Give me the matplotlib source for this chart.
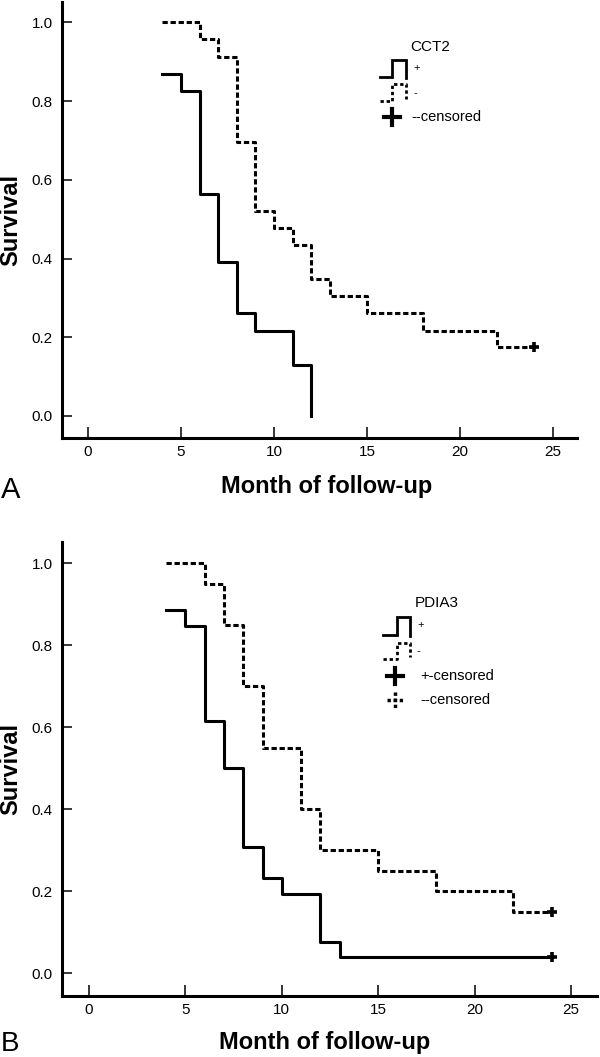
"""Kaplan-Meier curves: CCT2 (A) and PDIA3 (B), month of follow-up."""
import matplotlib
matplotlib.use('Agg')
import matplotlib.pyplot as plt
from matplotlib.lines import Line2D

plt.rcParams['font.family'] = ['Liberation Sans', 'DejaVu Sans']
plt.rcParams['lines.scale_dashes'] = False

# ---- data ----
cct2_pos_t = [4, 5, 6, 7, 8, 9, 11, 12]
cct2_pos_s = [0.870, 0.826, 0.565, 0.391, 0.261, 0.217, 0.130, 0.0]
cct2_neg_t = [4, 6, 7, 8, 9, 10, 11, 12, 13, 15, 18, 22, 24]
cct2_neg_s = [1.0, 0.957, 0.913, 0.696, 0.522, 0.478, 0.435, 0.348, 0.304,
              0.261, 0.217, 0.174, 0.174]
cct2_cens = [(24, 0.174)]

pdia3_pos_t = [4, 5, 6, 7, 8, 9, 10, 12, 13, 24]
pdia3_pos_s = [0.885, 0.846, 0.615, 0.5, 0.308, 0.231, 0.192, 0.077, 0.038, 0.038]
pdia3_neg_t = [4, 6, 7, 8, 9, 11, 12, 15, 18, 22, 24]
pdia3_neg_s = [1.0, 0.95, 0.85, 0.70, 0.55, 0.40, 0.30, 0.25, 0.20, 0.15, 0.15]
pdia3_cens = [(24, 0.038), (24, 0.15)]

x_ticks = [0, 5, 10, 15, 20, 25]
y_ticks = [0.0, 0.2, 0.4, 0.6, 0.8, 1.0]

W, H = 600, 1057
LW = 2.2
DASH = (3.8, 2.0)

fig = plt.figure(figsize=(W / 100, H / 100), dpi=100)


def fpx(x, y):
    return x / W, 1 - y / H


def axes_px(left, top, right, bottom):
    return fig.add_axes([left / W, 1 - bottom / H, (right - left) / W, (bottom - top) / H])


def style(ax, xmax):
    ax.set_xlim(-1.4, xmax)
    ax.set_ylim(-0.056, 1.052)
    for s in ['top', 'right']:
        ax.spines[s].set_visible(False)
    for s in ['left', 'bottom']:
        ax.spines[s].set_linewidth(2.2)
    ax.set_xticks(x_ticks)
    ax.set_yticks(y_ticks)
    ax.set_yticklabels([f'{v:.1f}' for v in y_ticks])
    ax.tick_params(axis='y', direction='in', length=7.5, width=1.1, pad=6.5, labelsize=11)
    ax.tick_params(axis='x', direction='in', length=8, width=1.1, pad=5, labelsize=11)


def fig_line(xs, ys, dashed=False, lw=2.0):
    pts = [fpx(x, y) for x, y in zip(xs, ys)]
    ln = Line2D([p[0] for p in pts], [p[1] for p in pts], transform=fig.transFigure,
                color='black', lw=lw, solid_joinstyle='miter')
    if dashed:
        ln.set_dashes((2.4, 2.0))
    fig.add_artist(ln)


def fig_text(x, y, s, **kw):
    fx, fy = fpx(x, y)
    fig.text(fx, fy, s, **kw)


def cens_mark(ax, pts):
    for x, y in pts:
        ax.plot([x], [y], marker='+', ms=7, mew=2.6, color='black', clip_on=False)


# ---- panel A ----
axA = axes_px(62, 2, 577, 438)
style(axA, 26.3)
axA.step(cct2_pos_t, cct2_pos_s, where='post', color='black', lw=LW)
axA.step(cct2_neg_t, cct2_neg_s, where='post', color='black', lw=LW, dashes=DASH)
cens_mark(axA, cct2_cens)

fig_text(410, 47, 'CCT2', fontsize=11, va='center', ha='left')
fig_line([380, 392, 392, 406, 406], [77, 77, 60, 60, 78])
fig_text(413, 68, '+', fontsize=8, va='center', ha='left')
fig_line([380, 392, 392, 406, 406], [101, 101, 84, 84, 99], dashed=True)
fig_text(413, 93, '-', fontsize=8, va='center', ha='left')
fig_line([384, 400], [117, 117], lw=3)
fig_line([392, 392], [109, 125], lw=3)
fig_text(411, 117, '--censored', fontsize=10.5, va='center', ha='left')

fig_text(11, 220, 'Survival', fontsize=17, fontweight='bold', rotation=90,
         ha='center', va='center')
fig_text(327, 493, 'Month of follow-up', fontsize=17, fontweight='bold',
         ha='center', va='baseline')
fig_text(1, 498, 'A', fontsize=21, ha='left', va='baseline')

# ---- panel B ----
axB = axes_px(62, 542, 597, 996)
style(axB, 26.35)
axB.step(pdia3_pos_t, pdia3_pos_s, where='post', color='black', lw=LW)
axB.step(pdia3_neg_t, pdia3_neg_s, where='post', color='black', lw=LW, dashes=DASH)
cens_mark(axB, pdia3_cens)

fig_text(415, 603, 'PDIA3', fontsize=11, va='center', ha='left')
fig_line([383, 397, 397, 410, 410], [635, 635, 617, 617, 636])
fig_text(417, 625, '+', fontsize=8, va='center', ha='left')
fig_line([383, 397, 397, 410, 410], [659, 659, 643, 643, 657], dashed=True)
fig_text(417, 651, '-', fontsize=8, va='center', ha='left')
fig_line([387, 403], [676, 676], lw=3)
fig_line([395, 395], [668, 684], lw=3)
fig_text(420, 676, '+-censored', fontsize=10.5, va='center', ha='left')
fig_line([387, 403], [700, 700], lw=2.5, dashed=True)
fig_line([395, 395], [692, 708], lw=2.5, dashed=True)
fig_text(420, 700, '--censored', fontsize=10.5, va='center', ha='left')

fig_text(11, 769, 'Survival', fontsize=17, fontweight='bold', rotation=90,
         ha='center', va='center')
fig_text(325, 1049, 'Month of follow-up', fontsize=17, fontweight='bold',
         ha='center', va='baseline')
fig_text(1, 1051, 'B', fontsize=20, ha='left', va='baseline')

fig.savefig('out.png', dpi=100)
